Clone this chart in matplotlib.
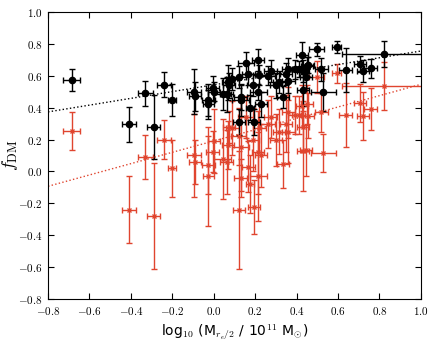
import numpy as np
import matplotlib.pyplot as plt
from matplotlib.ticker import FuncFormatter, MultipleLocator

plt.rcParams['mathtext.fontset'] = 'cm'
plt.rcParams['font.size'] = 8

# shared stellar mass within r_e/2
log_m = np.array([-0.686, -0.41, -0.33, -0.29, -0.24, -0.20, -0.095, -0.09, -0.026, -0.026,
                  -0.005, 0.0, 0.043, 0.062, 0.07, 0.075, 0.09, 0.12, 0.155, 0.167,
                  0.13, 0.13, 0.123, 0.175, 0.19, 0.195, 0.215, 0.22, 0.215, 0.228,
                  0.26, 0.275, 0.30, 0.315, 0.335, 0.35, 0.36, 0.36, 0.39, 0.41,
                  0.425, 0.43, 0.445, 0.45, 0.455, 0.43, 0.497, 0.52, 0.53, 0.593,
                  0.637, 0.706, 0.72, 0.757, 0.82])
log_m_err = np.array([0.04, 0.035, 0.035, 0.03, 0.035, 0.02, 0.035, 0.03, 0.03, 0.025,
                      0.03, 0.03, 0.04, 0.03, 0.03, 0.03, 0.03, 0.035, 0.04, 0.03,
                      0.03, 0.04, 0.03, 0.02, 0.03, 0.03, 0.03, 0.03, 0.04, 0.03,
                      0.035, 0.03, 0.03, 0.03, 0.03, 0.03, 0.03, 0.03, 0.03, 0.03,
                      0.03, 0.03, 0.03, 0.03, 0.03, 0.03, 0.035, 0.03, 0.06, 0.02,
                      0.03, 0.03, 0.03, 0.03, 0.2])

# black: dark matter fraction, model 1
fdm_black = np.array([0.573, 0.295, 0.49, 0.28, 0.545, 0.45, 0.50, 0.47, 0.45, 0.42,
                      0.52, 0.50, 0.485, 0.485, 0.56, 0.54, 0.58, 0.59, 0.68, 0.61,
                      0.465, 0.45, 0.31, 0.40, 0.54, 0.31, 0.70, 0.605, 0.50, 0.42,
                      0.60, 0.63, 0.54, 0.56, 0.465, 0.61, 0.64, 0.57, 0.64, 0.64,
                      0.73, 0.63, 0.595, 0.66, 0.67, 0.51, 0.766, 0.64, 0.50, 0.78,
                      0.636, 0.674, 0.63, 0.647, 0.735])
fdm_black_err = np.array([0.07, 0.11, 0.08, 0.20, 0.08, 0.10, 0.14, 0.09, 0.10, 0.09,
                          0.08, 0.06, 0.10, 0.11, 0.11, 0.08, 0.07, 0.07, 0.07, 0.07,
                          0.08, 0.10, 0.08, 0.08, 0.07, 0.08, 0.07, 0.06, 0.05, 0.08,
                          0.06, 0.07, 0.08, 0.07, 0.07, 0.07, 0.07, 0.08, 0.06, 0.05,
                          0.08, 0.07, 0.07, 0.06, 0.05, 0.10, 0.04, 0.07, 0.12, 0.04,
                          0.14, 0.05, 0.07, 0.06, 0.08])

# red: dark matter fraction, model 2
fdm_red = np.array([0.255, -0.24, 0.09, -0.28, 0.20, 0.02, 0.10, 0.06, 0.04, -0.03,
                    0.125, 0.19, 0.08, 0.06, 0.165, 0.28, 0.27, 0.22, 0.34, 0.03,
                    -0.04, 0.155, -0.24, -0.08, 0.20, -0.225, 0.12, 0.27, -0.03, 0.10,
                    0.295, 0.34, 0.197, 0.25, 0.045, 0.30, 0.37, 0.25, 0.354, 0.354,
                    0.41, 0.28, 0.134, 0.42, 0.35, 0.13, 0.594, 0.37, 0.117, 0.615,
                    0.354, 0.43, 0.35, 0.39, 0.535])
fdm_red_err = np.array([0.12, 0.21, 0.14, 0.33, 0.12, 0.18, 0.26, 0.14, 0.18, 0.31,
                        0.13, 0.20, 0.25, 0.20, 0.15, 0.10, 0.17, 0.18, 0.13, 0.16,
                        0.12, 0.28, 0.37, 0.18, 0.20, 0.17, 0.26, 0.15, 0.28, 0.20,
                        0.15, 0.13, 0.16, 0.14, 0.15, 0.18, 0.16, 0.20, 0.12, 0.12,
                        0.13, 0.16, 0.16, 0.12, 0.14, 0.25, 0.10, 0.12, 0.12, 0.06,
                        0.20, 0.12, 0.15, 0.13, 0.15])

# linear fits (intercept at log M = 0, slope)
fit_black = (0.543, 0.212)
fit_red = (0.191, 0.355)

red = '#e0452f'

fig = plt.figure(figsize=(4.37, 3.51), dpi=100)
ax = fig.add_axes([0.110, 0.148, 0.853, 0.818])

ax.errorbar(log_m, fdm_red, xerr=log_m_err, yerr=fdm_red_err, fmt='x', color=red,
            ms=3.5, mew=1, elinewidth=1, capsize=2.5, capthick=1)
ax.errorbar(log_m, fdm_black, xerr=log_m_err, yerr=fdm_black_err, fmt='o', color='k',
            ms=4.5, elinewidth=1, capsize=2.5, capthick=1)

xx = np.array([-0.8, 1.0])
ax.plot(xx, fit_black[0] + fit_black[1] * xx, ls=':', color='k', lw=1)
ax.plot(xx, fit_red[0] + fit_red[1] * xx, ls=':', color=red, lw=1)

ax.set_xlim(-0.8, 1.0)
ax.set_ylim(-0.8, 1.0)
ax.xaxis.set_major_locator(MultipleLocator(0.2))
ax.yaxis.set_major_locator(MultipleLocator(0.2))
fmt = FuncFormatter(lambda v, p: r'$%.1f$' % v)
ax.xaxis.set_major_formatter(fmt)
ax.yaxis.set_major_formatter(fmt)
ax.tick_params(direction='in', top=True, right=True, length=4, labelsize=8, pad=4)

ax.set_xlabel(r'log$_{10}$ (M$_{r_e/2}$ / 10$^{11}$ M$_{\odot}$)', fontsize=10,
              family='DejaVu Sans')
ax.set_ylabel(r'$f_{\rm DM}$', fontsize=13)
ax.yaxis.set_label_coords(-0.075, 0.5)

fig.savefig('out.png', dpi=100)
